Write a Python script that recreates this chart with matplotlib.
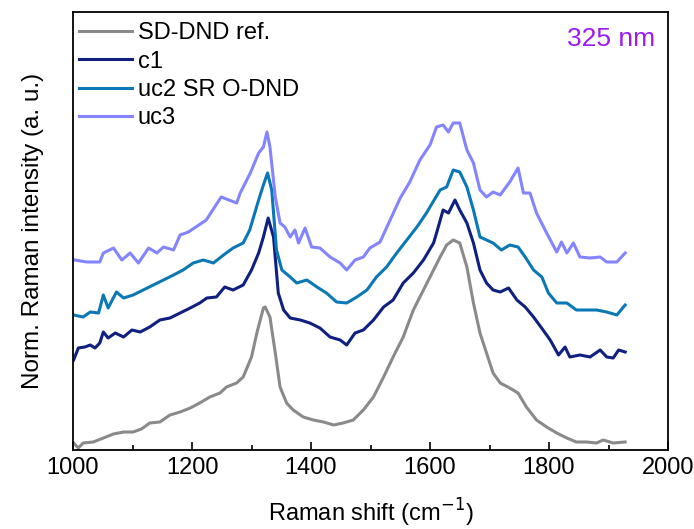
import matplotlib
matplotlib.use("Agg")
import matplotlib.pyplot as plt
from matplotlib.ticker import MultipleLocator, NullLocator

plt.rcParams['font.family'] = ['Liberation Sans', 'DejaVu Sans']

# Raman shift (cm^-1) and normalized (offset) intensities, arbitrary units
x_ref = [1001, 1009, 1017, 1034, 1051, 1068, 1085, 1101, 1115, 1129, 1146, 1163, 1180, 1197,
         1213, 1230, 1247, 1258, 1275, 1286, 1300, 1309, 1320, 1323, 1331, 1340, 1348, 1359,
         1370, 1387, 1404, 1421, 1438, 1454, 1471, 1488, 1505, 1522, 1538, 1555, 1572, 1589,
         1606, 1617, 1628, 1639, 1650, 1662, 1673, 1684, 1695, 1706, 1718, 1734, 1748, 1762,
         1779, 1796, 1813, 1830, 1846, 1863, 1880, 1891, 1908, 1928]
y_ref = [7, 2, 7, 8, 12, 16, 18, 18, 21, 27, 28, 35, 38, 42,
         47, 53, 57, 63, 67, 73, 93, 117, 142, 143, 133, 97, 63, 47,
         40, 33, 30, 28, 25, 27, 30, 40, 53, 73, 93, 113, 140, 160,
         180, 193, 205, 210, 207, 183, 147, 117, 97, 77, 67, 62, 57, 43,
         30, 23, 17, 12, 8, 8, 7, 10, 7, 8]

x_c1 = [1001, 1009, 1020, 1029, 1037, 1045, 1051, 1059, 1071, 1085, 1099, 1113, 1129, 1146,
        1163, 1180, 1197, 1213, 1225, 1241, 1255, 1269, 1286, 1300, 1312, 1320, 1328, 1337,
        1345, 1354, 1365, 1382, 1398, 1415, 1432, 1449, 1460, 1474, 1488, 1505, 1522, 1538,
        1555, 1572, 1589, 1606, 1611, 1622, 1631, 1642, 1650, 1662, 1673, 1684, 1695, 1706,
        1718, 1732, 1746, 1760, 1774, 1790, 1802, 1816, 1827, 1835, 1852, 1869, 1886, 1897,
        1908, 1917, 1928]
y_c1 = [90, 102, 103, 105, 102, 107, 118, 112, 117, 113, 120, 118, 123, 130,
        132, 137, 142, 147, 152, 153, 163, 160, 165, 180, 197, 213, 232, 213,
        157, 140, 132, 130, 127, 122, 113, 110, 105, 117, 120, 130, 143, 150,
        167, 177, 190, 207, 217, 240, 237, 250, 240, 227, 207, 180, 167, 160,
        158, 162, 150, 143, 133, 120, 110, 95, 103, 93, 95, 93, 100, 93,
        92, 100, 98]

x_uc2 = [1001, 1017, 1029, 1043, 1051, 1059, 1073, 1085, 1101, 1118, 1135, 1152, 1169, 1185,
         1202, 1219, 1236, 1253, 1269, 1286, 1297, 1312, 1320, 1327, 1334, 1342, 1351, 1365,
         1376, 1393, 1410, 1426, 1443, 1460, 1477, 1494, 1510, 1527, 1544, 1561, 1578, 1594,
         1600, 1617, 1628, 1639, 1650, 1662, 1673, 1684, 1695, 1706, 1720, 1734, 1748, 1760,
         1774, 1788, 1799, 1813, 1830, 1846, 1863, 1880, 1897, 1914, 1928]
y_uc2 = [135, 133, 138, 137, 155, 142, 158, 152, 155, 160, 165, 170, 175, 180,
         187, 190, 187, 195, 202, 207, 220, 250, 265, 277, 260, 200, 180, 173,
         167, 170, 163, 157, 148, 147, 153, 160, 173, 183, 197, 210, 223, 237,
         243, 260, 263, 280, 278, 263, 240, 213, 210, 207, 200, 205, 203, 193,
         180, 173, 157, 147, 147, 140, 140, 140, 138, 135, 145]

x_uc3 = [1003, 1023, 1045, 1051, 1068, 1082, 1096, 1110, 1127, 1141, 1152, 1169, 1180, 1194,
         1224, 1249, 1275, 1281, 1298, 1312, 1320, 1326, 1331, 1340, 1348, 1356, 1365, 1373,
         1379, 1390, 1401, 1415, 1432, 1449, 1460, 1474, 1488, 1499, 1516, 1533, 1550, 1566,
         1583, 1600, 1611, 1622, 1631, 1639, 1650, 1662, 1673, 1684, 1695, 1706, 1718, 1734,
         1748, 1757, 1768, 1779, 1796, 1813, 1821, 1830, 1841, 1852, 1869, 1886, 1897, 1914,
         1928]
y_uc3 = [190, 188, 188, 197, 202, 190, 197, 187, 202, 197, 203, 200, 215, 218,
         230, 253, 247, 257, 277, 297, 303, 318, 303, 253, 227, 223, 213, 220,
         207, 222, 203, 202, 193, 187, 180, 190, 193, 202, 208, 230, 252, 268,
         290, 305, 323, 325, 318, 327, 327, 300, 287, 260, 253, 258, 255, 268,
         282, 257, 257, 237, 217, 198, 208, 197, 207, 193, 192, 193, 188, 188,
         197]

labels = ["SD-DND ref.", "c1", "uc2 SR O-DND", "uc3"]
colors = ["#8a8a8a", "#0f2080", "#0b78b6", "#8484ff"]
xticks = [1000, 1200, 1400, 1600, 1800, 2000]

fig = plt.figure(figsize=(6.94, 5.29), dpi=100)
ax = fig.add_axes([73/694, (529-450)/529, (668-73)/694, (450-12)/529])

series = [(x_ref, y_ref), (x_c1, y_c1), (x_uc2, y_uc2), (x_uc3, y_uc3)]
for (xs, ys), lab, col in zip(series, labels, colors):
    ax.plot(xs, ys, color=col, lw=2.2, label=lab)

ax.set_xlim(1000, 2000)
ax.set_ylim(0, 438)
ax.set_xticks(xticks)
ax.xaxis.set_minor_locator(MultipleLocator(100))
ax.yaxis.set_major_locator(NullLocator())
ax.tick_params(axis='x', which='major', direction='in', length=6, width=1.2, labelsize=17, pad=5)
ax.tick_params(axis='x', which='minor', direction='in', length=3.5, width=1.2)
for s in ax.spines.values():
    s.set_linewidth(1.3)

ax.set_xlabel("Raman shift (cm$^{-1}$)", fontsize=17, labelpad=13)
ax.set_ylabel("Norm. Raman intensity (a. u.)", fontsize=17.5, labelpad=21)

ax.legend(loc='upper left', bbox_to_anchor=(0.0, 0.99), frameon=False, fontsize=17,
          handlelength=2.25, borderaxespad=0.0, borderpad=0.25, labelspacing=0.27,
          handletextpad=0.25)
ax.text(0.978, 0.965, "325 nm", transform=ax.transAxes, ha='right', va='top',
        color='#9b19f5', fontsize=19)

fig.savefig("out.png", dpi=100)
